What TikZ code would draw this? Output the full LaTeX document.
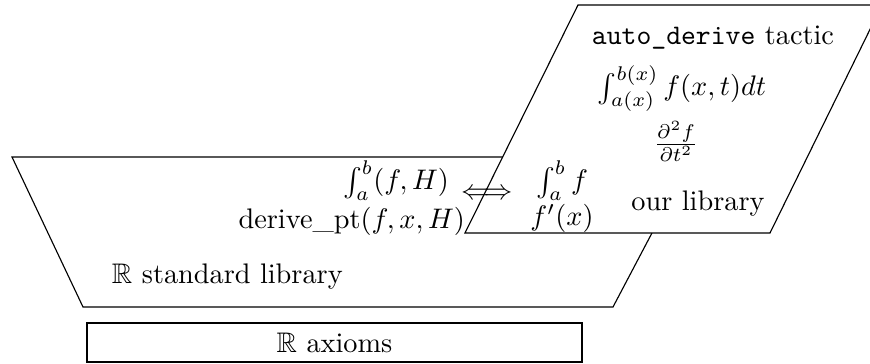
\documentclass[tikz,border=0pt]{standalone}
\usepackage{amssymb}
\begin{document}
\begin{tikzpicture}[x=0.35336pt,y=-0.35336pt,
  layer/.style={draw,fill=white,line width=0.4pt,line join=miter},
  lbl/.style={inner sep=0pt,outer sep=0pt}]
\useasboundingbox (0,0) rectangle (870,364);
% shapes
\coordinate (t1) at (12,157); \coordinate (t2) at (692,157);
\coordinate (t3) at (613,307); \coordinate (t4) at (83,307);
\coordinate (p1) at (578,5); \coordinate (p2) at (882,5);
\coordinate (p3) at (770,233); \coordinate (p4) at (465,233);
\begin{scope}
\clip (0,0) rectangle (870,364);
\draw[layer] (t1) -- (t2) -- (t3) -- (t4) -- cycle;
\draw[layer] (p1) -- (p2) -- (p3) -- (p4) -- cycle;
\end{scope}
\node[draw,line width=0.4pt,minimum width=174.9pt,minimum height=13.8pt,inner sep=0pt] (axioms) at (334.5,342.5) {$\mathbb{R}$ axioms};
% standard library texts
\node[lbl,anchor=base west] (std) at (112,284) {$\mathbb{R}$ standard library};
\node[lbl,anchor=base east] (intstd) at (449,190) {$\int_a^b(f,H)$};
\node[lbl,anchor=base east] (derstd) at (465,229) {derive\_pt$(f,x,H)$};
\node[lbl] (iff) at (487,194) {$\Longleftrightarrow$};
% our library texts
\node[lbl,anchor=base] (intour) at (562,190) {$\int_a^b f$};
\node[lbl,anchor=base] (derour) at (562,226) {$f'(x)$};
\node[lbl,anchor=base] (our) at (698,211) {our library};
\node[lbl,anchor=base] (tactic) at (713,45) {\texttt{auto\_derive} tactic};
\node[lbl,anchor=base] (param) at (682,96) {$\int_{a(x)}^{b(x)} f(x,t)dt$};
\node[lbl] (partial) at (676,141) {$\frac{\partial^2 f}{\partial t^2}$};
\end{tikzpicture}
\end{document}
